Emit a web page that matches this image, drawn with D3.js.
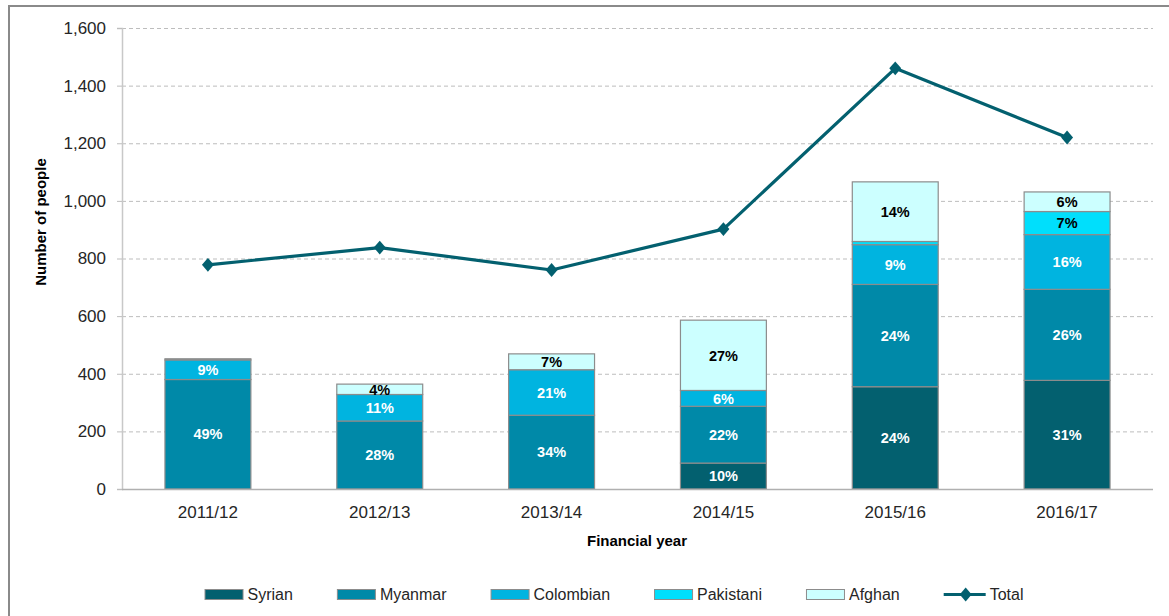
<!DOCTYPE html>
<html>
<head>
<meta charset="utf-8">
<script src="https://cdn.jsdelivr.net/npm/d3@7"></script>
<style>
  html, body { margin: 0; padding: 0; background: #fff; }
  svg { display: block; font-family: "Liberation Sans", Arial, sans-serif; }
</style>
</head>
<body>
<svg id="chart" width="1169" height="616"></svg>
<script>
// Financial years on the x axis
const categories = ["2011/12", "2012/13", "2013/14", "2014/15", "2015/16", "2016/17"];

// People by nationality, per financial year
const syrian    = [0,   0,   0,   90,  355, 377];
const myanmar   = [380, 236, 256, 197, 355, 316];
const colombian = [68,  92,  158, 55,  138, 190];
const pakistani = [0,   0,   0,   0,   11,  80];
const afghan    = [4,   36,  55,  244, 207, 68];

// Total people per financial year (line series)
const total = [778, 838, 760, 902, 1460, 1220];

// Y axis tick values
const yTicks = [0, 200, 400, 600, 800, 1000, 1200, 1400, 1600];

const seriesNames = ["Syrian", "Myanmar", "Colombian", "Pakistani", "Afghan"];
const seriesValues = [syrian, myanmar, colombian, pakistani, afghan];
const seriesColors = ["#03606f", "#0089a8", "#00b4e0", "#00dffc", "#ccffff"];
const labelColors  = ["#ffffff", "#ffffff", "#ffffff", "#000000", "#000000"];
const lineColor = "#03606f";

const svg = d3.select("#chart");

// Outer frame
svg.append("rect")
  .attr("x", 9).attr("y", 6)
  .attr("width", 1180).attr("height", 640)
  .attr("fill", "none")
  .attr("stroke", "#8a8a8a")
  .attr("stroke-width", 2);

const plot = { left: 122, right: 1153, top: 28, bottom: 489 };

const x = d3.scaleBand()
  .domain(categories)
  .range([plot.left, plot.right])
  .paddingInner(0.5)
  .paddingOuter(0.25);

const y = d3.scaleLinear()
  .domain([0, 1600])
  .range([plot.bottom, plot.top]);

// Dashed horizontal gridlines
svg.append("g")
  .selectAll("line")
  .data(yTicks.filter(d => d > 0))
  .join("line")
  .attr("x1", plot.left).attr("x2", plot.right)
  .attr("y1", d => y(d) + 0.5).attr("y2", d => y(d) + 0.5)
  .attr("stroke", "#bdbdbd")
  .attr("stroke-width", 1)
  .attr("stroke-dasharray", "4,3");

// Y axis
const yAxis = svg.append("g")
  .attr("transform", `translate(${plot.left},0)`)
  .call(d3.axisLeft(y).tickValues(yTicks).tickSize(5).tickPadding(11)
    .tickFormat(d3.format(",")));
yAxis.select(".domain").attr("stroke", "#c8c8c8").attr("stroke-width", 1.5);
yAxis.selectAll(".tick line").attr("stroke", "#bdbdbd");
yAxis.selectAll(".tick text")
  .attr("font-size", 17)
  .attr("fill", "#262626")
  .attr("font-family", "Liberation Sans, Arial, sans-serif");

// Stacked bars
const stackData = categories.map((c, i) => {
  const row = { cat: c, total: total[i] };
  seriesNames.forEach((s, k) => { row[s] = seriesValues[k][i]; });
  return row;
});
const stacked = d3.stack().keys(seriesNames)(stackData);

const layers = svg.append("g")
  .selectAll("g")
  .data(stacked)
  .join("g")
  .attr("fill", (d, k) => seriesColors[k]);

layers.selectAll("rect")
  .data(d => d.filter(p => p[1] - p[0] > 0))
  .join("rect")
  .attr("x", p => x(p.data.cat))
  .attr("width", x.bandwidth())
  .attr("y", p => y(p[1]))
  .attr("height", p => y(p[0]) - y(p[1]))
  .attr("stroke", "#8c8c8c")
  .attr("stroke-width", 1.2);

// Percentage-of-total labels inside segments
stacked.forEach((layer, k) => {
  svg.append("g")
    .selectAll("text")
    .data(layer.filter(p => Math.round((p[1] - p[0]) / p.data.total * 100) >= 2))
    .join("text")
    .attr("x", p => x(p.data.cat) + x.bandwidth() / 2)
    .attr("y", p => (y(p[0]) + y(p[1])) / 2)
    .attr("dy", "0.36em")
    .attr("text-anchor", "middle")
    .attr("font-size", 14.5)
    .attr("font-weight", "bold")
    .attr("fill", labelColors[k])
    .text(p => Math.round((p[1] - p[0]) / p.data.total * 100) + "%");
});

// X axis baseline
svg.append("line")
  .attr("x1", plot.left).attr("x2", plot.right)
  .attr("y1", plot.bottom + 0.5).attr("y2", plot.bottom + 0.5)
  .attr("stroke", "#b0b0b0")
  .attr("stroke-width", 1.5);

// X tick labels
svg.append("g")
  .selectAll("text")
  .data(categories)
  .join("text")
  .attr("x", d => x(d) + x.bandwidth() / 2)
  .attr("y", 518)
  .attr("text-anchor", "middle")
  .attr("font-size", 17)
  .attr("fill", "#262626")
  .text(d => d);

// Total line with diamond markers
const line = d3.line()
  .x((d, i) => x(categories[i]) + x.bandwidth() / 2)
  .y(d => y(d));

svg.append("path")
  .datum(total)
  .attr("d", line)
  .attr("fill", "none")
  .attr("stroke", lineColor)
  .attr("stroke-width", 3.2)
  .attr("stroke-linejoin", "round");

const diamond = d3.symbol().type(d3.symbolDiamond).size(55);
svg.append("g")
  .selectAll("path")
  .data(total)
  .join("path")
  .attr("d", diamond)
  .attr("transform", (d, i) => `translate(${x(categories[i]) + x.bandwidth() / 2},${y(d)}) scale(1.5,1)`)
  .attr("fill", lineColor);

// Axis titles
svg.append("text")
  .attr("transform", "translate(46,222) rotate(-90)")
  .attr("text-anchor", "middle")
  .attr("font-size", 15)
  .attr("font-weight", "bold")
  .attr("fill", "#000")
  .text("Number of people");

svg.append("text")
  .attr("x", 637)
  .attr("y", 546)
  .attr("text-anchor", "middle")
  .attr("font-size", 15)
  .attr("font-weight", "bold")
  .attr("fill", "#000")
  .text("Financial year");

// Legend
const legendItems = seriesNames.map((s, k) => ({ name: s, color: seriesColors[k], type: "bar" }))
  .concat([{ name: "Total", color: lineColor, type: "line" }]);

const legend = svg.append("g");
const swatchW = 39, gapText = 4, gapItem = 44;
let cursor = 0;
legendItems.forEach(item => {
  const g = legend.append("g").attr("transform", `translate(${cursor},0)`);
  if (item.type === "bar") {
    g.append("rect")
      .attr("x", 0.5).attr("y", -10.5)
      .attr("width", swatchW - 1).attr("height", 10)
      .attr("fill", item.color)
      .attr("stroke", "#8c8c8c")
      .attr("stroke-width", 1);
  } else {
    g.append("line")
      .attr("x1", 0).attr("x2", 42)
      .attr("y1", -5.5).attr("y2", -5.5)
      .attr("stroke", item.color)
      .attr("stroke-width", 3.2);
    g.append("path")
      .attr("d", diamond)
      .attr("transform", "translate(22,-5.5) scale(1.5,1)")
      .attr("fill", item.color);
  }
  const t = g.append("text")
    .attr("x", (item.type === "bar" ? swatchW : 42) + gapText)
    .attr("y", 0)
    .attr("font-size", 16)
    .attr("fill", "#262626")
    .text(item.name);
  const w = (item.type === "bar" ? swatchW : 42) + gapText + t.node().getComputedTextLength();
  cursor += w + gapItem;
});
const legendWidth = cursor - gapItem;
legend.attr("transform", `translate(${614 - legendWidth / 2},600)`);
</script>
</body>
</html>
